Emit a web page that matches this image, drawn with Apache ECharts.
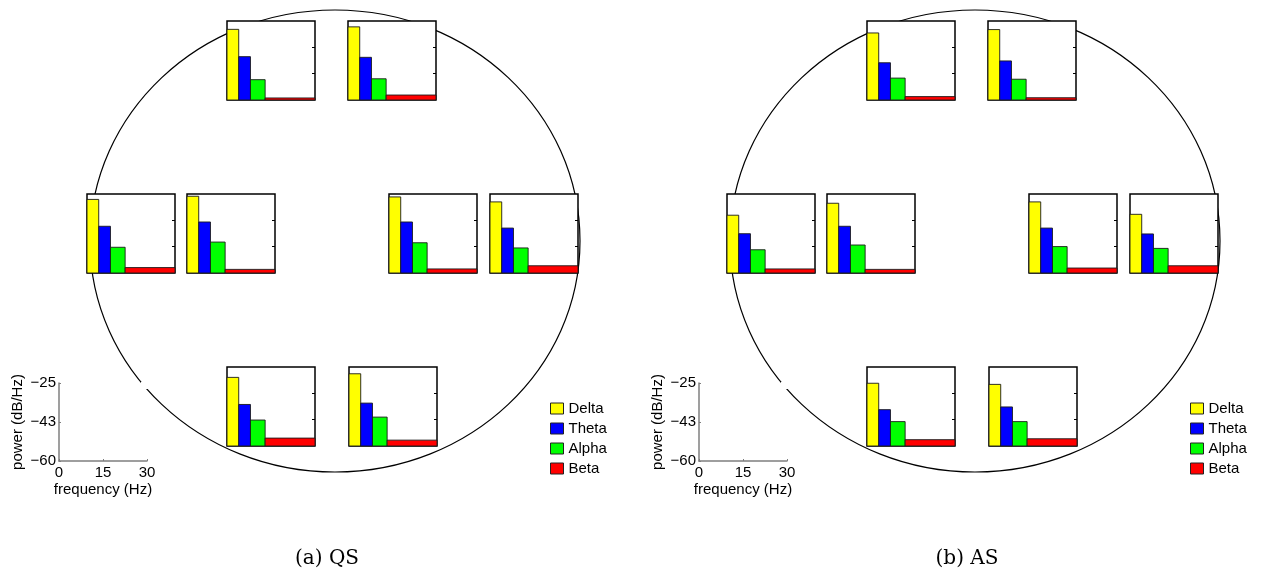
<!DOCTYPE html>
<html><head><meta charset="utf-8">
<script src="https://cdn.jsdelivr.net/npm/echarts@6/dist/echarts.min.js"></script>
<style>html,body{margin:0;padding:0;background:#fff}#c{width:1264px;height:575px}</style>
</head><body><div id="c"></div>
<script>
// ---------- data ----------
const bands = ['Delta', 'Theta', 'Alpha', 'Beta'];
const bandLowHz = [0, 4, 8, 13];
const bandHighHz = [4, 8, 13, 30];
const channels = ['Fp1', 'Fp2', 'T3', 'C3', 'C4', 'T4', 'O1', 'O2'];
const qsDelta = [-28.7, -27.6, -27.4, -26.0, -26.3, -28.5, -29.6, -28.0];
const qsTheta = [-40.8, -41.1, -39.3, -37.4, -37.4, -40.1, -41.6, -41.0];
const qsAlpha = [-51.0, -50.6, -48.6, -46.3, -46.6, -48.9, -48.5, -47.2];
const qsBeta  = [-59.1, -57.8, -57.6, -58.4, -58.2, -56.8, -56.5, -57.4];
const asDelta = [-30.3, -28.8, -34.4, -29.1, -28.5, -34.0, -32.2, -32.7];
const asTheta = [-43.5, -42.7, -42.6, -39.3, -40.1, -42.7, -43.9, -42.7];
const asAlpha = [-50.3, -50.8, -49.7, -47.6, -48.3, -49.1, -49.2, -49.2];
const asBeta  = [-58.5, -59.0, -58.2, -58.4, -57.8, -56.8, -57.2, -56.8];
const powerMin = -60, powerMax = -25, freqMax = 30;
const scaleYTicks = [-60, -42.5, -25];
const scaleYLabels = ['−60', '−43', '−25'];
const scaleXTicks = [0, 15, 30];
const scaleXLabels = ['0', '15', '30'];
const panelCaptions = ['(a) QS', '(b) AS'];

// ---------- layout & style ----------
const panels = [
  { values: [qsDelta, qsTheta, qsAlpha, qsBeta], dx: 0 },
  { values: [asDelta, asTheta, asAlpha, asBeta], dx: 640 }
];
const insetPos = { Fp1: [227, 21], Fp2: [348, 21], T3: [87, 194], C3: [187, 194],
                   C4: [389, 194], T4: [490, 194], O1: [227, 367], O2: [349, 367] };
const insetW = 88, insetH = 79;
const bandColors = ['#ffff00', '#0000ff', '#00ff00', '#ff0000'];
const FONT = 'Liberation Sans';

const grids = [], xAxes = [], yAxes = [], series = [], legends = [], graphics = [];

function renderBar(params, api) {
  const p1 = api.coord([api.value(0), api.value(2)]);
  const p2 = api.coord([api.value(1), powerMin]);
  return {
    type: 'rect',
    shape: { x: p1[0], y: p1[1], width: p2[0] - p1[0], height: p2[1] - p1[1] },
    style: { fill: api.visual('color'), stroke: '#1a1a1a', lineWidth: 0.9 }
  };
}

panels.forEach((panel, pi) => {
  channels.forEach((ch, ci) => {
    const g = grids.length;
    const pos = insetPos[ch];
    grids.push({ left: pos[0] + panel.dx, top: pos[1], width: insetW, height: insetH,
      show: true, backgroundColor: '#fff', borderColor: '#000', borderWidth: 1.5, containLabel: false });
    xAxes.push({ gridIndex: g, type: 'value', min: 0, max: freqMax,
      axisLine: { show: false, onZero: false }, axisTick: { show: false }, axisLabel: { show: false }, splitLine: { show: false } });
    yAxes.push({ gridIndex: g, type: 'value', min: powerMin, max: powerMax, position: 'right',
      axisLine: { show: false, onZero: false },
      axisTick: { show: true, inside: true, length: 3, customValues: [-48.33, -36.67], lineStyle: { color: '#000', width: 1 } },
      axisLabel: { show: false }, splitLine: { show: false } });
    bands.forEach((b, bi) => {
      series.push({ type: 'custom', name: b, xAxisIndex: g, yAxisIndex: g,
        itemStyle: { color: bandColors[bi] }, renderItem: renderBar, clip: false,
        data: [[bandLowHz[bi], bandHighHz[bi], panel.values[bi][ci]]] });
    });
  });

  // scale axes
  const g = grids.length;
  grids.push({ left: 59 + panel.dx, top: 383, width: 88, height: 78, show: false });
  xAxes.push({ gridIndex: g, type: 'value', min: 0, max: freqMax,
    axisLine: { show: true, onZero: false, lineStyle: { color: '#7f7f7f', width: 1.5 } },
    axisTick: { show: true, inside: true, length: 2, customValues: scaleXTicks, lineStyle: { color: '#7f7f7f' } },
    axisLabel: { show: true, customValues: scaleXTicks, margin: 4, color: '#000', fontSize: 15, fontFamily: FONT,
      formatter: v => scaleXLabels[scaleXTicks.indexOf(v)] },
    splitLine: { show: false },
    name: 'frequency (Hz)', nameLocation: 'middle', nameGap: 21,
    nameTextStyle: { color: '#000', fontSize: 15, fontFamily: FONT } });
  yAxes.push({ gridIndex: g, type: 'value', min: powerMin, max: powerMax,
    axisLine: { show: true, onZero: false, lineStyle: { color: '#7f7f7f', width: 1.5 } },
    axisTick: { show: true, inside: true, length: 2, customValues: scaleYTicks, lineStyle: { color: '#7f7f7f' } },
    axisLabel: { show: true, customValues: scaleYTicks, margin: 3, color: '#000', fontSize: 15, fontFamily: FONT,
      formatter: v => scaleYLabels[scaleYTicks.indexOf(v)] },
    splitLine: { show: false },
    name: 'power (dB/Hz)', nameLocation: 'middle', nameGap: 34,
    nameTextStyle: { color: '#000', fontSize: 15, fontFamily: FONT } });

  legends.push({ data: bands, orient: 'vertical', left: 550 + panel.dx, top: 401, padding: 0,
    icon: 'rect', itemWidth: 13, itemHeight: 11, itemGap: 5, selectedMode: false,
    itemStyle: { borderColor: '#222', borderWidth: 1 },
    textStyle: { color: '#000', fontSize: 15, fontFamily: FONT } });

  graphics.push({ type: 'ellipse', z: -2, silent: true,
    shape: { cx: 335 + panel.dx, cy: 241, rx: 245, ry: 231 },
    style: { fill: null, stroke: '#000', lineWidth: 1.2 } });
  graphics.push({ type: 'rect', z: -1, silent: true,
    shape: { x: 141 + panel.dx, y: 382, width: 7, height: 7 },
    style: { fill: '#fff' } });
  graphics.push({ type: 'text', z: 10, x: 327 + panel.dx, y: 559,
    style: { text: panelCaptions[pi], fill: '#000', font: '20px "DejaVu Serif"', textAlign: 'center', textVerticalAlign: 'middle' } });
});

const chart = echarts.init(document.getElementById('c'), null, { renderer: 'canvas' });
chart.setOption({
  animation: false,
  backgroundColor: '#fff',
  textStyle: { fontFamily: FONT },
  grid: grids, xAxis: xAxes, yAxis: yAxes, series: series,
  legend: legends, graphic: graphics
});
</script></body></html>
